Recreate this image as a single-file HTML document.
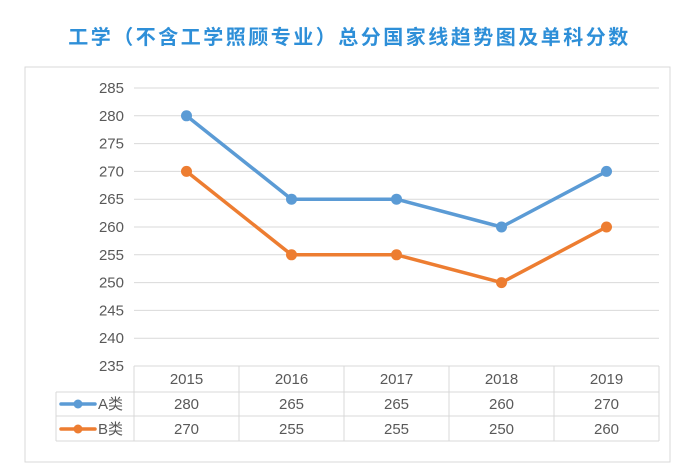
<!DOCTYPE html>
<html><head><meta charset="utf-8"><style>
body{margin:0;background:#fff;width:691px;height:472px;overflow:hidden;font-family:"Liberation Sans","Noto Sans CJK SC",sans-serif;}
#title{position:absolute;left:4px;width:691px;top:21px;text-align:center;font-size:20px;letter-spacing:2.5px;color:#2e8fd8;font-weight:bold;font-family:"Liberation Sans","Noto Sans CJK SC",sans-serif;}
svg{position:absolute;left:0;top:0}
</style></head><body>
<div id="title">工学（不含工学照顾专业）总分国家线趋势图及单科分数</div>
<svg id="c" width="691" height="472"></svg>
<script>
const categories=["2015","2016","2017","2018","2019"];
const seriesA=[280,265,265,260,270];
const seriesB=[270,255,255,250,260];
const seriesNames=["A类","B类"];
const yTicks=[235,240,245,250,255,260,265,270,275,280,285];
const colors=["#5b9bd5","#ed7d31"];
const svg=document.getElementById('c');const NS="http://www.w3.org/2000/svg";
function el(t,a,p){const e=document.createElementNS(NS,t);for(const k in a)e.setAttribute(k,a[k]);(p||svg).appendChild(e);return e;}
const x0=134,colW=105,yMin=235,yMax=285,yTop=88,yBot=366;
const yS=v=>yBot-(v-yMin)*(yBot-yTop)/(yMax-yMin);
const xS=i=>x0+colW*(i+0.5);
const frame=el('rect',{x:25,y:67,width:645,height:395,fill:'none',stroke:'#d9d9d9','stroke-width':1});


yTicks.forEach(v=>{
 const g=el('line',{x1:x0,x2:x0+colW*categories.length,y1:yS(v),y2:yS(v),stroke:'#d9d9d9'});
 
 
 const t=el('text',{x:124,y:yS(v)+5,'text-anchor':'end','font-size':15,fill:'#595959'});
 t.textContent=v;
 
 
});
const rows=[366,392,416,441];
rows.forEach((y,i)=>{const l=el('line',{x1:i==0?x0:56,x2:x0+colW*5,y1:y,y2:y,stroke:'#d9d9d9'});
 
 });
for(let i=0;i<=5;i++){const l=el('line',{x1:x0+colW*i,x2:x0+colW*i,y1:366,y2:441,stroke:'#d9d9d9'});
 
 }
const ll=el('line',{x1:56,x2:56,y1:392,y2:441,stroke:'#d9d9d9'});


categories.forEach((c,i)=>{const t=el('text',{x:xS(i),y:384,'text-anchor':'middle','font-size':15,fill:'#595959'});t.textContent=c;
 
 });
[seriesA,seriesB].forEach((s,k)=>{
 const ry=k==0?409:434;
 const lg=el('line',{x1:61,x2:95,y1:ry-5,y2:ry-5,stroke:colors[k],'stroke-width':3.5,'stroke-linecap':'round'});
 
 
 el('circle',{cx:78,cy:ry-5,r:4.5,fill:colors[k]});
 const lt=el('text',{x:98,y:ry,'font-size':15,fill:'#595959'});lt.textContent=seriesNames[k];
 
 
 s.forEach((v,i)=>{const t=el('text',{x:xS(i),y:ry,'text-anchor':'middle','font-size':15,fill:'#595959'});t.textContent=v;
  
  });
 const p=el('polyline',{points:s.map((v,i)=>xS(i)+','+yS(v)).join(' '),fill:'none',stroke:colors[k],'stroke-width':3.5,'stroke-linejoin':'round'});
 
 
 s.forEach((v,i)=>{const c=el('circle',{cx:xS(i),cy:yS(v),r:5.5,fill:colors[k]});
  
  });
});
</script>
</body></html>
